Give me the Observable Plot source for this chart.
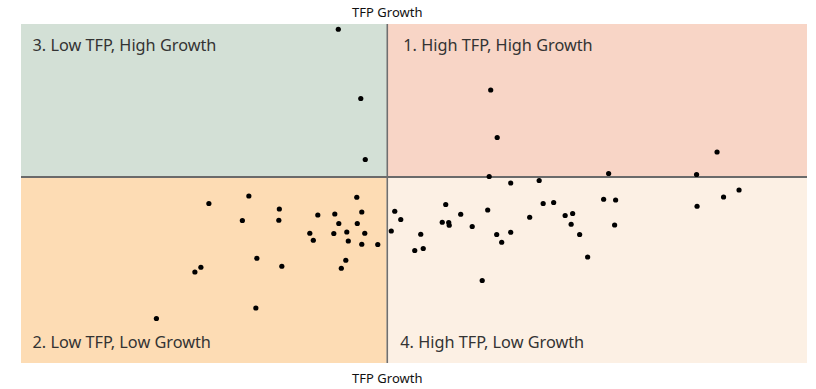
<!DOCTYPE html>
<html>
<head>
<meta charset="utf-8">
<script src="https://cdn.jsdelivr.net/npm/d3@7"></script>
<script src="https://cdn.jsdelivr.net/npm/@observablehq/plot@0.6"></script>
<style>
  html, body { margin: 0; padding: 0; background: #ffffff; }
  #chart svg { display: block; }
</style>
</head>
<body>
<div id="chart"></div>
<script>
// TFP growth (x) vs output growth (y); 0 is the quadrant split
const tfp = [
  -0.98, -0.53, -0.44,
  2.07, 2.20, 2.04, 4.43, 6.19, 6.60,
  -3.57, -2.77, -2.90, -2.16, -2.17, -1.39, -1.05, -0.61, -0.51, -0.97, -0.60,
  -1.55, -1.48, -1.07, -0.81, -0.78, -0.45, -0.51, -0.19, -2.61, -2.11, -3.73,
  -3.85, -0.83, -0.92, -2.63, -4.62,
  0.08, 0.15, 0.27, 0.55, 0.67, 0.72, 1.10, 1.17, 1.23, 1.24, 1.47, 1.70, 1.90,
  2.01, 2.19, 2.29, 2.47, 2.47, 2.85, 3.04, 3.12, 3.33, 3.56, 3.71, 3.68, 3.85,
  4.01, 4.33, 4.57, 4.55, 6.20, 6.73, 7.04
];
const growth = [
  5.91, 3.14, 0.70,
  3.48, 1.58, 0.02, 0.14, 0.10, 1.00,
  -1.06, -0.76, -1.74, -1.28, -1.73, -1.52, -1.48, -0.81, -1.40, -1.86, -1.86,
  -2.25, -2.53, -2.26, -2.20, -2.56, -2.25, -2.69, -2.70, -3.25, -3.57, -3.61,
  -3.80, -3.33, -3.65, -5.24, -5.66,
  -2.16, -1.37, -1.70, -2.94, -2.29, -2.86, -1.81, -1.10, -1.82, -1.93, -1.49, -1.98, -4.14,
  -1.32, -2.30, -2.61, -2.21, -0.24, -1.61, -0.14, -1.06, -1.02, -1.54, -1.46, -1.89, -2.30,
  -3.20, -0.89, -0.92, -1.92, -1.17, -0.80, -0.52
];
const xDomain = [-7.32, 8.41];
const yDomain = [-7.46, 6.10];

const quadrantNames = [
  "1. High TFP, High Growth",
  "2. Low TFP, Low Growth",
  "3. Low TFP, High Growth",
  "4. High TFP, Low Growth"
];
const axisTitle = "TFP Growth";

const points = tfp.map((x, i) => ({x, y: growth[i]}));

const quads = [
  {name: quadrantNames[0], x1: 0, x2: xDomain[1], y1: 0, y2: yDomain[1], fill: "#f8d5c6"},
  {name: quadrantNames[1], x1: xDomain[0], x2: 0, y1: yDomain[0], y2: 0, fill: "#fddcb4"},
  {name: quadrantNames[2], x1: xDomain[0], x2: 0, y1: 0, y2: yDomain[1], fill: "#d3e0d6"},
  {name: quadrantNames[3], x1: 0, x2: xDomain[1], y1: yDomain[0], y2: 0, fill: "#fcf0e4"}
];

const font = "'Noto Sans', 'DejaVu Sans', sans-serif";

const chart = Plot.plot({
  width: 816,
  height: 389,
  marginLeft: 21,
  marginRight: 9,
  marginTop: 24,
  marginBottom: 26,
  x: {domain: xDomain, axis: null},
  y: {domain: yDomain, axis: null},
  style: {fontFamily: font, background: "#ffffff"},
  marks: [
    Plot.rect(quads, {x1: "x1", x2: "x2", y1: "y1", y2: "y2", fill: d => d.fill}),
    Plot.ruleY([0], {stroke: "#6a6a6a", strokeWidth: 2}),
    Plot.ruleX([0], {stroke: "#6f6f6f", strokeWidth: 1.6}),
    Plot.dot(points, {x: "x", y: "y", r: 2.6, fill: "#000000", stroke: "none"}),
    // quadrant labels
    Plot.text([quads[2]], {x: d => d.x1, y: d => d.y2, text: "name", textAnchor: "start", lineAnchor: "middle",
      dx: 11, dy: 21, fontSize: 16.3, fill: "#333333"}),
    Plot.text([quads[0]], {x: d => d.x1, y: d => d.y2, text: "name", textAnchor: "start", lineAnchor: "middle",
      dx: 16, dy: 21, fontSize: 16.3, fill: "#333333"}),
    Plot.text([quads[1]], {x: d => d.x1, y: d => d.y1, text: "name", textAnchor: "start", lineAnchor: "middle",
      dx: 11, dy: -21, fontSize: 16.3, fill: "#333333"}),
    Plot.text([quads[3]], {x: d => d.x1, y: d => d.y1, text: "name", textAnchor: "start", lineAnchor: "middle",
      dx: 13, dy: -21, fontSize: 16.3, fill: "#333333"}),
    // axis titles
    Plot.text([axisTitle], {x: 0, y: yDomain[1], text: d => d, textAnchor: "middle", lineAnchor: "middle",
      dy: -12, fontSize: 13, fill: "#111111"}),
    Plot.text([axisTitle], {x: 0, y: yDomain[0], text: d => d, textAnchor: "middle", lineAnchor: "middle",
      dy: 15, fontSize: 13, fill: "#111111"})
  ]
});
document.getElementById("chart").appendChild(chart);
</script>
</body>
</html>
